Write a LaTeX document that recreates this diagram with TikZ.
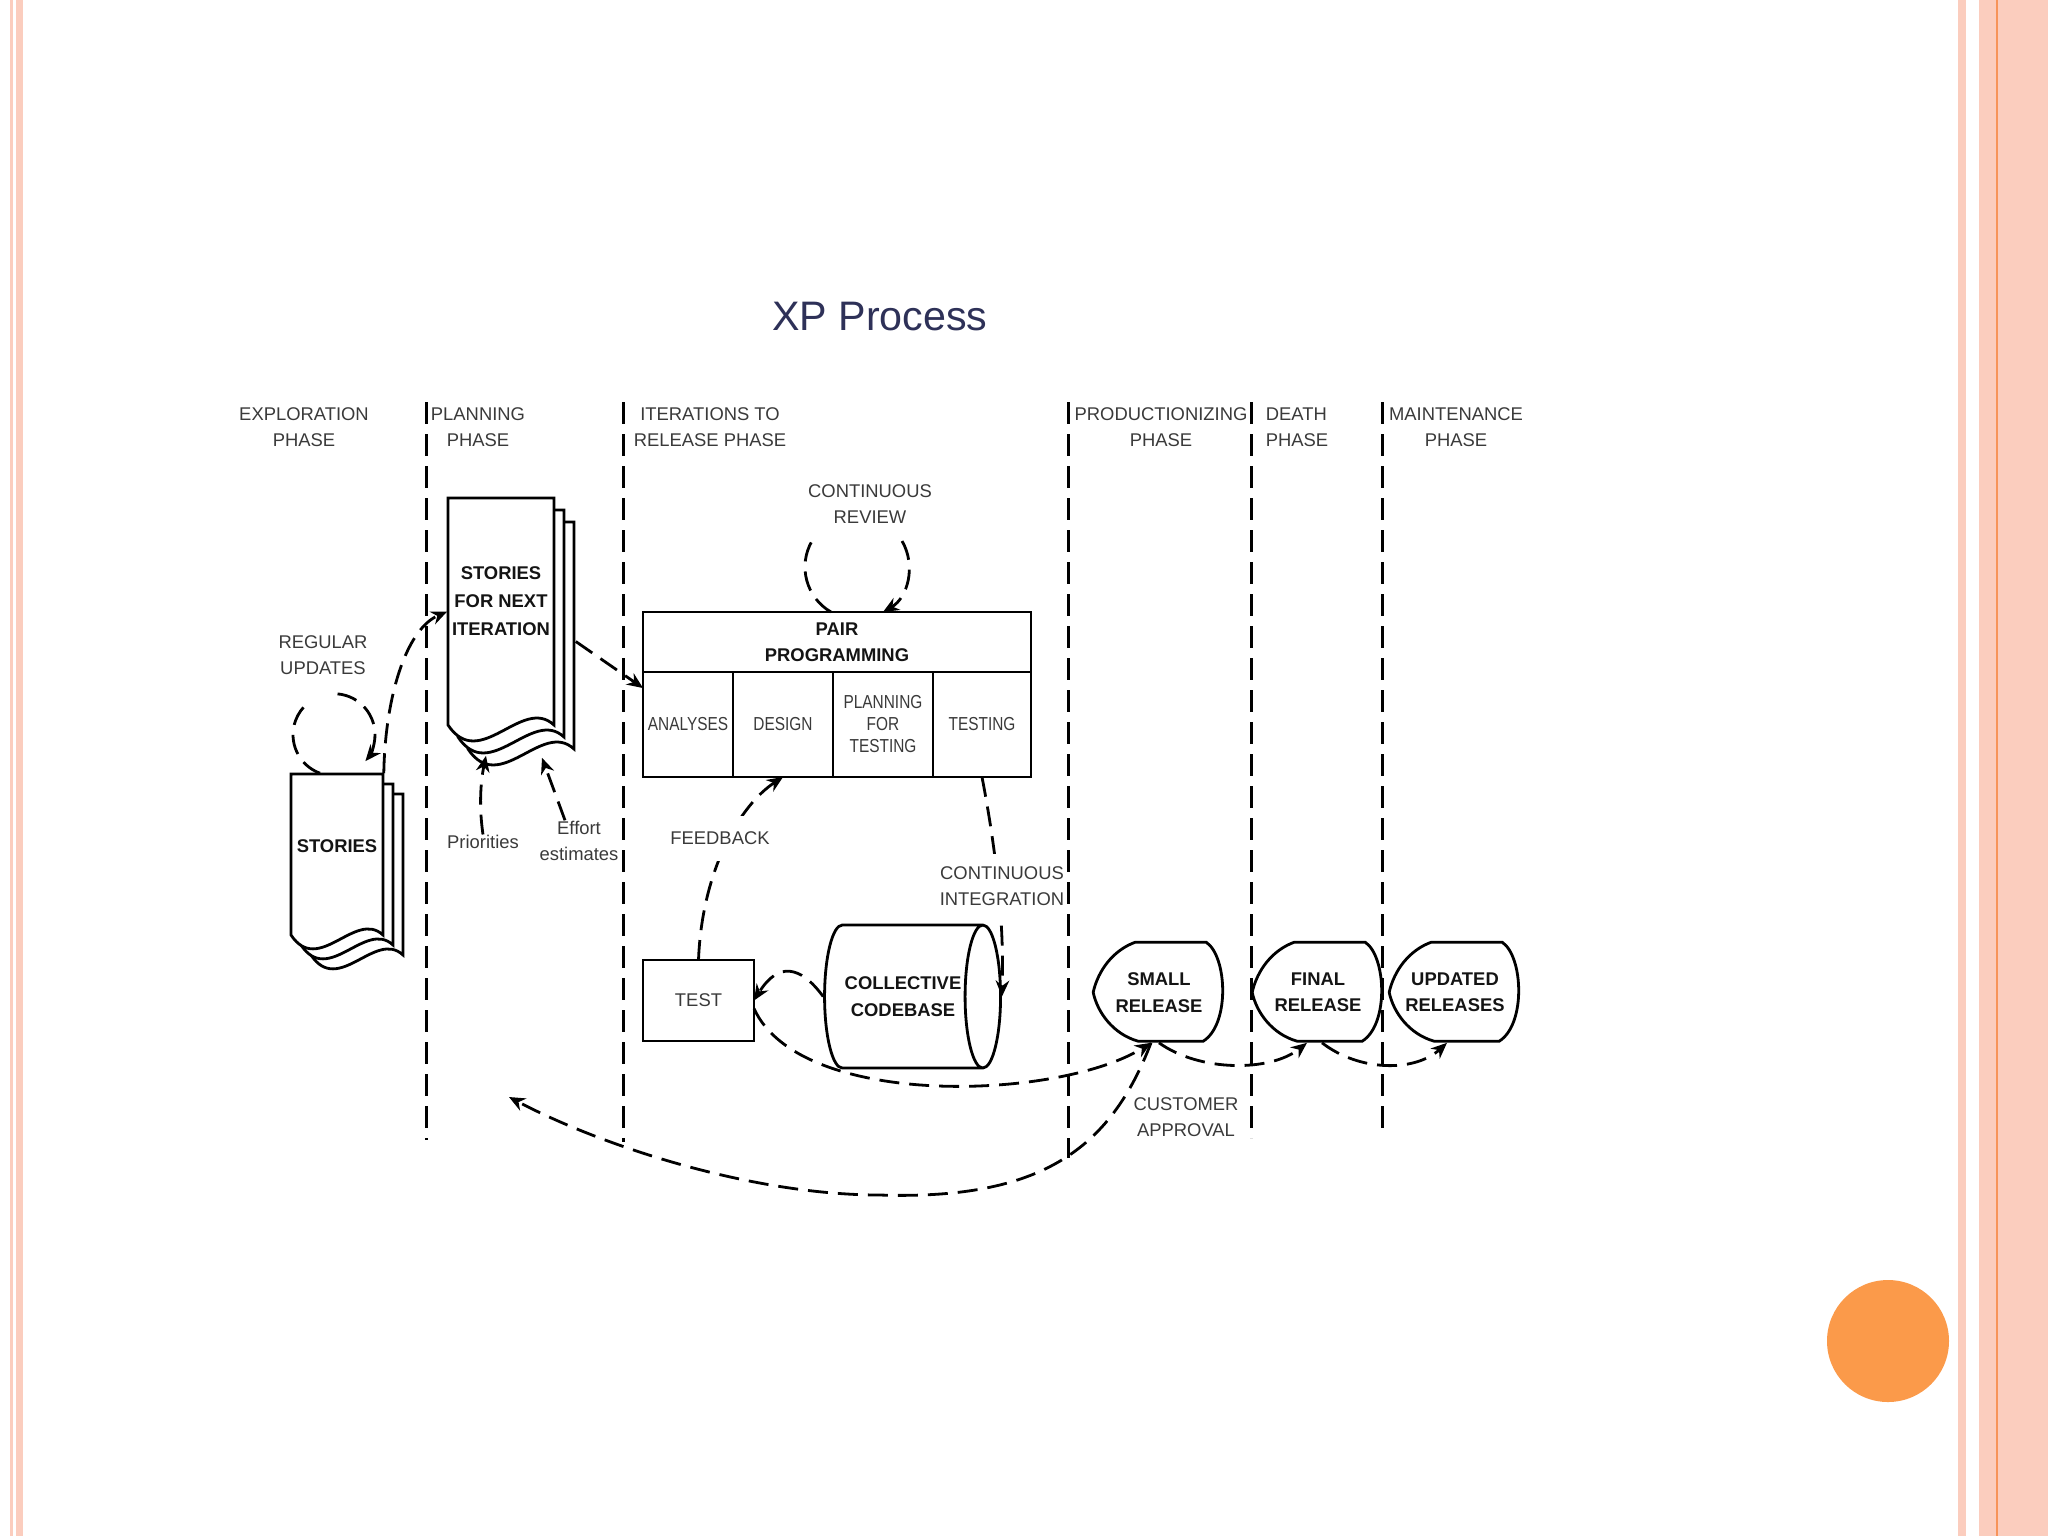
\documentclass[tikz,border=0pt]{standalone}
\usepackage{fontspec}
\setmainfont{Liberation Sans}
\newfontfamily\condfont[FakeStretch=0.82]{Liberation Sans}
\usepackage{tikz}
\usetikzlibrary{shapes.geometric, arrows.meta, positioning, calc}

\definecolor{inkgray}{HTML}{3A3A3A}
\definecolor{inkblack}{HTML}{141414}
\definecolor{titleblue}{HTML}{2E3158}
\definecolor{framepink}{HTML}{FBCDBE}
\definecolor{frameorange}{HTML}{F7945A}
\definecolor{dotorange}{HTML}{FB9A4A}

\newcommand{\txtnorm}{\fontsize{4.6}{6.6}\selectfont}
\newcommand{\txtbold}{\fontsize{4.6}{6.6}\selectfont\bfseries}
\newcommand{\txtcell}{\condfont\fontsize{4.7}{5.5}\selectfont}

\newcommand{\docstack}[6]{%
	\foreach \k in {2,1,0}
		\filldraw[fill=white, line width=0.7pt, shift={(\k*#5,-\k*#6)}] (#1,-#2) -- ++(#3,0) -- ++(0,-#4)
			.. controls +(-0.3*#3,0.28*#3) and +(0.3*#3,-0.45*#3) .. ++(-#3,0) -- cycle;
}

\newcommand{\releaseoutline}[1]{%
	\draw[line width=0.7pt, shift={(#1.north west)}] (42,0) -- (113,0)
		.. controls (134,-14) and (137,-82) .. (110,-99) -- (45,-99)
		.. controls (20,-92) and (4,-70) .. (0,-50)
		.. controls (5,-28) and (20,-8) .. (42,0) -- cycle;
}

\tikzset{
	phaseline/.style={line width=0.75pt, dash pattern=on 5.5pt off 2.5pt},
	flow/.style={line width=0.7pt, dash pattern=on 5pt off 2.5pt},
	cellbox/.style={draw, line width=0.7pt, inner sep=0pt, outer sep=0pt, align=center},
	lbl/.style={font=\txtnorm, text=inkgray, align=center, inner sep=0pt},
	boldlbl/.style={font=\txtbold, text=inkblack, align=center, inner sep=0pt},
	relbox/.style={boldlbl, minimum width=32.5pt, minimum height=24.75pt},
}

\begin{document}
\begin{tikzpicture}[x=0.25pt, y=0.25pt, >={Stealth[length=4pt, width=3.4pt]}, font=\txtnorm]
	\useasboundingbox (0,0) rectangle (2048,-1536);
	\fill[white] (0,0) rectangle (2048,-1536);
	\fill[framepink] (10,0) rectangle (13,-1536);
	\fill[framepink] (16,0) rectangle (23,-1536);
	\fill[framepink] (1958,0) rectangle (1966,-1536);
	\fill[framepink] (1979,0) rectangle (2048,-1536);
	\fill[frameorange] (1995.5,0) rectangle (1998,-1536);
	\fill[dotorange] (1888,-1341) circle[radius=61];

	\node[font=\fontsize{10.3}{12}\selectfont, text=titleblue] (title) at (880,-317) {XP Process};

	\node[lbl] (hdrexplore) at (304,-427) {EXPLORATION\\PHASE};
	\node[lbl] (hdrplan) at (478,-427) {PLANNING\\PHASE};
	\node[lbl] (hdriter) at (710,-427) {ITERATIONS TO\\RELEASE PHASE};
	\node[lbl] (hdrprod) at (1161,-427) {PRODUCTIONIZING\\PHASE};
	\node[lbl, align=left, anchor=west] (hdrdeath) at (1265,-427) {DEATH\\PHASE};
	\node[lbl] (hdrmaint) at (1456,-427) {MAINTENANCE\\PHASE};

	\foreach \px/\py in {426/1140, 623/1142, 1068/1158, 1251/1138, 1382/1136}
		\draw[phaseline] (\px,-402) -- (\px,-\py);

	\docstack{291}{774}{92}{161}{10}{10}
	\node[minimum width=23pt, minimum height=40.25pt, inner sep=0pt] (stories) at (337,-854.5) {};
	\node[boldlbl] (storiestxt) at ($(stories)+(0,8)$) {STORIES};

	\docstack{448}{498}{106}{227}{10}{12}
	\node[minimum width=26.5pt, minimum height=56.75pt, inner sep=0pt] (nextstories) at (501,-611.5) {};
	\node[boldlbl, font=\fontsize{4.6}{7}\selectfont\bfseries] (nextstoriestxt) at ($(nextstories)+(0,10)$) {STORIES\\FOR NEXT\\ITERATION};

	\node[lbl] (updlbl) at (323,-655) {REGULAR\\UPDATES};
	\node[lbl] (priolbl) at (483,-842) {Priorities};
	\node[lbl] (effortlbl) at (579,-841) {Effort\\estimates};
	\node[lbl] (reviewlbl) at (870,-504) {CONTINUOUS\\REVIEW};
	\node[lbl] (custlbl) at (1186,-1117) {CUSTOMER\\APPROVAL};

	\node[cellbox, font=\txtbold, text=inkblack, minimum width=97pt, minimum height=15pt] (pairprog) at (837,-642) {PAIR\\PROGRAMMING};
	\node[cellbox, font=\txtcell, text=inkgray, minimum width=22.5pt, minimum height=26.25pt, below right=0pt and 0pt of pairprog.south west] (analyses) {ANALYSES};
	\node[cellbox, font=\txtcell, text=inkgray, minimum width=25pt, minimum height=26.25pt, right=0pt of analyses] (design) {DESIGN};
	\node[cellbox, font=\txtcell, text=inkgray, minimum width=25pt, minimum height=26.25pt, right=0pt of design] (planfortest) {PLANNING\\FOR\\TESTING};
	\node[cellbox, font=\txtcell, text=inkgray, minimum width=24.5pt, minimum height=26.25pt, right=0pt of planfortest] (testing) {TESTING};

	\node[cellbox, text=inkgray, minimum width=27.75pt, minimum height=20.25pt] (test) at (698.5,-1000.5) {TEST};
	\node[cylinder, draw, line width=0.7pt, shape aspect=0.9, minimum width=35.75pt, minimum height=44pt, inner sep=0pt,
		font=\txtbold, text=inkblack, align=center] (codebase) at (903,-996.5) {COLLECTIVE\\CODEBASE};

	\node[relbox] (smallrel) at (1159,-992.5) {SMALL\\RELEASE};
	\node[relbox] (finalrel) at (1318,-992.5) {FINAL\\RELEASE};
	\node[relbox] (updrel) at (1455,-992.5) {UPDATED\\RELEASES};
	\releaseoutline{smallrel}
	\releaseoutline{finalrel}
	\releaseoutline{updrel}

	\coordinate (replan) at (509,-1097);

	\draw[flow, ->] ($(stories.north)+(-17,0)$) arc[start angle=250, end angle=130, radius=41]
		++(29.9,9.4) arc[start angle=85, end angle=-40, radius=41];
	\draw[flow, ->] (stories.north east) .. controls (385,-700) and (405,-630) .. (nextstories.west);
	\draw[flow, ->] (priolbl.north) .. controls (478,-800) and (482,-775) .. ($(nextstories.south)+(-15,-30)$);
	\draw[flow, ->] ($(effortlbl.north)+(-14,0)$) -- ($(nextstories.south)+(41,-32)$);
	\draw[flow, ->] ($(nextstories.east)+(21,-30)$) -- ($(analyses.north west)+(0,-16)$);
	\draw[flow, ->] ($(pairprog.north)+(-6,0)$) arc[start angle=240, end angle=150, radius=52]
		++(90.07,0) arc[start angle=30, end angle=-60, radius=52];
	\draw[flow, ->] (test.north) .. controls (702,-870) and (740,-805) .. (design.south);
	\draw[flow, ->] (testing.south) .. controls (998,-860) and (1004,-930) .. (codebase.east);
	\draw[flow, ->] (codebase.west) .. controls (800,-965) and (778,-962) .. (test.east);
	\draw[flow, ->] ($(test.east)+(0,-8)$) .. controls (800,-1110) and (1060,-1100) .. ($(smallrel.south)+(-8,0)$);
	\draw[flow, ->] (smallrel.south) .. controls (1200,-1072) and (1270,-1072) .. ($(finalrel.south)+(-11,0)$);
	\draw[flow, ->] ($(finalrel.south)+(4,0)$) .. controls (1360,-1072) and (1415,-1072) .. ($(updrel.south)+(-8,0)$);
	\draw[flow, ->] ($(smallrel.south)+(-8,0)$) .. controls (1110,-1150) and (1040,-1200) .. (880,-1195)
		.. controls (750,-1195) and (600,-1145) .. (replan);

	\node[lbl, fill=white, inner sep=4pt] (feedbacklbl) at (720,-838) {FEEDBACK};
	\node[lbl, fill=white, inner xsep=0pt, inner ysep=3pt] (intlbl) at (1002,-886) {CONTINUOUS\\INTEGRATION};
\end{tikzpicture}
\end{document}
